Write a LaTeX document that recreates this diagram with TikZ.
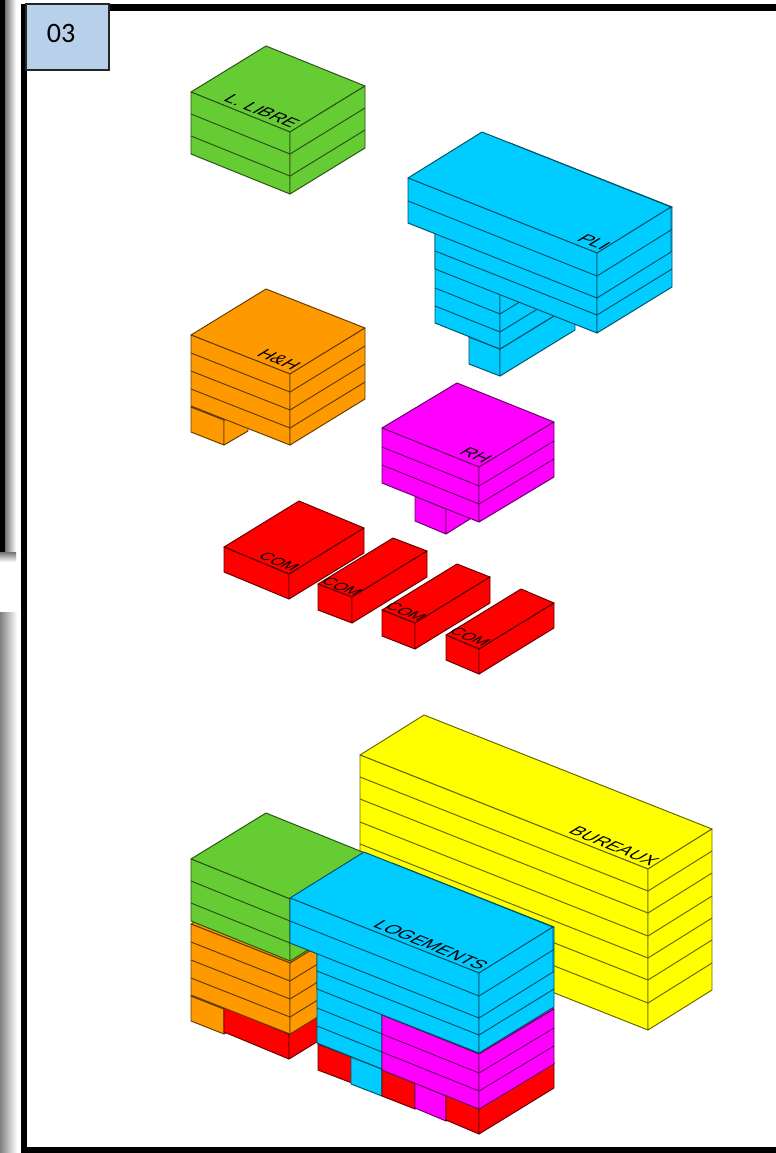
\documentclass[tikz,border=0pt]{standalone}
\usepackage{fontspec}
\usetikzlibrary{calc}
\newfontfamily\blocklabelfont{Liberation Sans}
\newfontfamily\tagfont{Carlito}
\definecolor{libre}{HTML}{66CC33}
\definecolor{hh}{HTML}{FF9900}
\definecolor{pli}{HTML}{00CCFF}
\definecolor{rh}{HTML}{FF00FF}
\definecolor{com}{HTML}{FF0000}
\definecolor{bureaux}{HTML}{FFFF00}
\definecolor{tagblue}{HTML}{B9D0EA}
\tikzset{
  face/.style={draw=#1!40!black, fill=#1, line width=0.55pt, line join=round},
  floorline/.style={draw=#1!40!black, line width=0.55pt},
  toplabel/.style={
    cm={.927,-.375,.852,.523,(0,0)},
    inner sep=0pt,
    text=black,
    font=\blocklabelfont\fontsize{10.5}{12}\selectfont},
  comlabel/.style={
    toplabel,
    font=\blocklabelfont\fontsize{9}{11}\selectfont},
  tagbox/.style={
    rectangle,
    draw=black!85, line width=0.6pt,
    fill=tagblue,
    minimum width=1.66cm,
    minimum height=1.32cm,
    inner sep=0pt},
}
% colour, left, back, front corner of the top face, height, floor offsets
\newcommand{\isobox}[6]{%
  \coordinate (L) at #2;
  \coordinate (B) at #3;
  \coordinate (F) at #4;
  \coordinate (R) at ($(B)+(F)-(L)$);
  \draw[face=#1] (L) -- (B) -- (R) -- (F) -- cycle;
  \draw[face=#1] (L) -- (F) -- ($(F)+(0,#5)$) -- ($(L)+(0,#5)$) -- cycle;
  \draw[face=#1] (F) -- (R) -- ($(R)+(0,#5)$) -- ($(F)+(0,#5)$) -- cycle;
  \foreach \fl in {#6}
    \draw[floorline=#1] ($(L)+(0,\fl)$) -- ($(F)+(0,\fl)$) -- ($(R)+(0,\fl)$);
}
\newcommand{\libreblock}{\isobox{libre}{(191,92)}{(266,46)}{(290,132)}{62}{22,44}}
\newcommand{\hhtail}{\isobox{hh}{(191,407)}{(215,393)}{(224,420)}{25}{0}}
\newcommand{\hhmain}{\isobox{hh}{(191,335)}{(266,289)}{(290,374)}{71}{18,36,54}}
\newcommand{\plitail}{\isobox{pli}{(469,337)}{(544,291)}{(500,349)}{27}{0}}
\newcommand{\plilower}{\isobox{pli}{(435,235)}{(510,189)}{(500,261)}{88}{53,71}}
\newcommand{\plimain}{\isobox{pli}{(435,189)}{(510,143)}{(597,253)}{80}{22,44,62}}
\newcommand{\pliwing}{\isobox{pli}{(408,178)}{(482,132)}{(597,253)}{45}{23}}
\newcommand{\rhtail}{\isobox{rh}{(415,496)}{(439,481)}{(446,509)}{25}{0}}
\newcommand{\rhmain}{\isobox{rh}{(382,428)}{(457,383)}{(479,467)}{55}{19,37}}
\newcommand{\comone}{\isobox{com}{(224,547)}{(299,501)}{(289,574)}{25}{0}}
\newcommand{\comtwo}{\isobox{com}{(318,584)}{(393,538)}{(352,597)}{26}{0}}
\newcommand{\comthree}{\isobox{com}{(382,610)}{(457,564)}{(415,623)}{26}{0}}
\newcommand{\comfour}{\isobox{com}{(446,635)}{(521,589)}{(479,649)}{25}{0}}

\begin{document}
\begin{tikzpicture}[x=0.02cm,y=-0.02cm]
\clip (0,0) rectangle (776,1153);
\fill[white] (0,0) rectangle (776,1153);

% page edges on the left
\shade[left color=black!55,right color=white] (5,0) rectangle (16,556);
\shade[top color=black!55,bottom color=white] (0,552) rectangle (16,562);
\fill[black] (0,0) rectangle (5,552);
\shade[left color=black!50,right color=white] (0,612) rectangle (17,1153);
\draw[black,line width=0.13cm] (24,7.5) rectangle (800,1150);
\node[tagbox] at (67.5,37) (tag) {};
\node[font=\tagfont\fontsize{16}{18}\selectfont,inner sep=0pt] at (61,33) (tagtext) {03};

% separate programmes
\libreblock
\hhtail
\hhmain
\plitail
\plilower
\plimain
\pliwing
\rhtail
\rhmain
\comone
\comtwo
\comthree
\comfour

% assembled volume
\isobox{bureaux}{(360,755)}{(424,715)}{(648,869)}{161}{22,44,67,89,111,134}
\begin{scope}[shift={(0,589)}]\hhtail\end{scope}
\begin{scope}[shift={(0,460)}]\comone\end{scope}
\begin{scope}[shift={(0,589)}]\hhmain\end{scope}
\begin{scope}[shift={(0,767)}]\libreblock\end{scope}
\begin{scope}[shift={(0,460)}]\comtwo\end{scope}
\begin{scope}[shift={(-118,720)}]\plitail\plilower\end{scope}
\begin{scope}[shift={(0,460)}]\comthree\end{scope}
\begin{scope}[shift={(0,587)}]\rhtail\end{scope}
\begin{scope}[shift={(0,460)}]\comfour\end{scope}
\begin{scope}[shift={(0,587)}]\rhmain\end{scope}
\begin{scope}[shift={(-118,720)}]\plimain\pliwing\end{scope}

\node[toplabel] at (262,111) (librelabel) {L. LIBRE};
\node[toplabel] at (279,360) (hhlabel) {H\&H};
\node[toplabel] at (594,242) (plilabel) {PLI};
\node[toplabel] at (476,455) (rhlabel) {RH};
\node[comlabel] at (279,562) (comonelabel) {COM};
\node[comlabel] at (342,587) (comtwolabel) {COM};
\node[comlabel] at (406,612) (comthreelabel) {COM};
\node[comlabel] at (470,637) (comfourlabel) {COM};
\node[toplabel] at (614,846) (bureauxlabel) {BUREAUX};
\node[toplabel] at (431,945) (logementslabel) {LOGEMENTS};
\end{tikzpicture}
\end{document}
